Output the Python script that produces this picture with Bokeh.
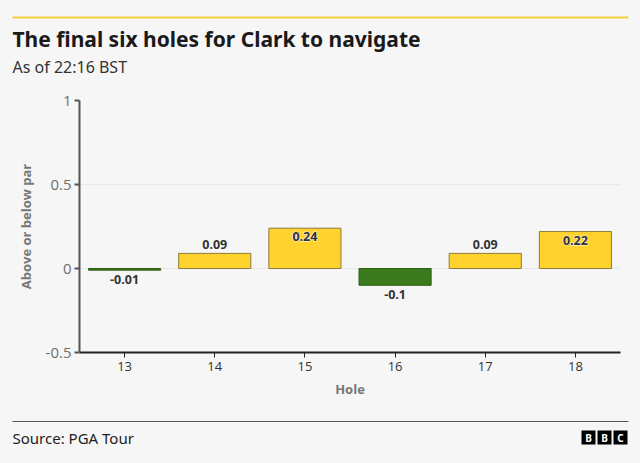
from bokeh.plotting import figure
from bokeh.layouts import column
from bokeh.models import ColumnDataSource, LabelSet, Range1d, FactorRange, FixedTicker
from bokeh.embed import file_html
from bokeh.resources import INLINE
from bokeh.core.properties import value

holes = ["13", "14", "15", "16", "17", "18"]
vals = [-0.01, 0.09, 0.24, -0.1, 0.09, 0.22]
labels = ["-0.01", "0.09", "0.24", "-0.1", "0.09", "0.22"]

BG = "#f6f6f6"
YEL = "#ffd22e"
GRN = "#3b7a1c"

W = 640
HEAD_H, MAIN_H = 85, 320
FOOT_H = 463 - HEAD_H - MAIN_H
FL, FR = 79, 620
FT, FB = 100, 352  # frame top/bottom in page px


def blank(h, y0):
    f = figure(width=W, height=h, x_range=Range1d(0, W), y_range=Range1d(y0 + h, y0),
               output_backend="svg", toolbar_location=None,
               x_axis_location=None, y_axis_location=None,
               min_border=0, min_border_left=0, min_border_right=0, min_border_top=0, min_border_bottom=0)
    f.grid.grid_line_color = None
    f.outline_line_color = None
    f.background_fill_color = BG
    f.border_fill_color = BG
    return f


# ---- header
head = blank(HEAD_H, 0)
head.rect(x=[320], y=[17], width=616, height=2, fill_color="#f5cf3a", line_color=None)
head.text(x=[12], y=[38], text=["The final six holes for Clark to navigate"],
          text_font=value("Noto Sans"), text_font_style="bold", text_font_size="21px",
          text_color="#1a1a1a", text_baseline="middle", text_align="left")
head.text(x=[12], y=[66], text=["As of 22:16 BST"],
          text_font=value("Noto Sans"), text_font_size="16px",
          text_color="#333333", text_baseline="middle", text_align="left")

# ---- main chart
colors = [YEL if v >= 0 else GRN for v in vals]
edges = ["#8b7b3a" if v >= 0 else "#2f5f17" for v in vals]
src = ColumnDataSource(dict(x=holes, top=vals, c=colors, e=edges))

p = figure(width=W, height=MAIN_H, x_range=FactorRange(*holes, range_padding=0),
           y_range=Range1d(-0.5, 1.0), output_backend="svg", toolbar_location=None,
           min_border_left=FL, min_border_right=W - FR, min_border_top=FT - HEAD_H,
           min_border_bottom=HEAD_H + MAIN_H - FB)
p.background_fill_color = BG
p.border_fill_color = BG
p.outline_line_color = None

p.vbar(x="x", top="top", bottom=0, width=0.8, source=src, fill_color="c",
       line_color="e", line_width=1)

p.yaxis.ticker = FixedTicker(ticks=[-0.5, 0, 0.5, 1])
p.yaxis.major_label_overrides = {-0.5: "-0.5", 0: "0", 0.5: "0.5", 1: "1"}
p.yaxis.axis_line_color = "#555555"
p.yaxis.axis_line_width = 2
p.yaxis.major_tick_line_color = "#555555"
p.yaxis.major_tick_line_width = 2
p.yaxis.major_tick_out = 5
p.yaxis.major_tick_in = 0
p.yaxis.minor_tick_line_color = None
p.yaxis.major_label_text_font = "Open Sans"
p.yaxis.major_label_text_font_size = "15px"
p.yaxis.major_label_text_color = "#6e6e6e"
p.yaxis.major_label_standoff = 3
p.yaxis.axis_label = "Above or below par"
p.yaxis.axis_label_text_font = "Open Sans"
p.yaxis.axis_label_text_font_style = "bold"
p.yaxis.axis_label_text_font_size = "13px"
p.yaxis.axis_label_text_color = "#777777"
p.yaxis.axis_label_standoff = 8

p.xaxis.axis_line_color = "#222222"
p.xaxis.axis_line_width = 2
p.xaxis.major_tick_line_color = "#222222"
p.xaxis.major_tick_line_width = 1
p.xaxis.major_tick_out = 5
p.xaxis.major_tick_in = 0
p.xaxis.major_label_text_font = "Open Sans"
p.xaxis.major_label_text_font_size = "13px"
p.xaxis.major_label_text_color = "#333333"
p.xaxis.major_label_standoff = 4
p.xaxis.axis_label = "Hole"
p.xaxis.axis_label_text_font = "Open Sans"
p.xaxis.axis_label_text_font_style = "bold"
p.xaxis.axis_label_text_font_size = "13px"
p.xaxis.axis_label_text_color = "#777777"
p.xaxis.axis_label_standoff = 6

p.xgrid.grid_line_color = None
p.ygrid.ticker = FixedTicker(ticks=[0, 0.5, 1])
p.ygrid.grid_line_color = "#e8e8e8"
p.ygrid.grid_line_width = 1


def sub(cond):
    idx = [i for i, v in enumerate(vals) if cond(v)]
    return ColumnDataSource(dict(x=[holes[i] for i in idx], y=[vals[i] for i in idx],
                                 t=[labels[i] for i in idx]))


pos = sub(lambda v: 0 <= v < 0.2)
neg = sub(lambda v: v < 0)
ins = sub(lambda v: v >= 0.2)
common = dict(text_font=value("Open Sans"), text_font_style="bold", text_font_size="12.5px",
              text_color="#333333", text_align="center")
p.add_layout(LabelSet(x="x", y="y", text="t", source=pos, y_offset=4, text_baseline="bottom", **common))
p.add_layout(LabelSet(x="x", y="y", text="t", source=neg, y_offset=-5, text_baseline="top", **common))
p.add_layout(LabelSet(x="x", y="y", text="t", source=ins, y_offset=-4, text_baseline="top",
                      text_outline_color="white", **common))
p.add_layout(LabelSet(x="x", y="y", text="t", source=ins, y_offset=-4, text_baseline="top", **common))

# ---- footer
y0 = HEAD_H + MAIN_H
foot = blank(FOOT_H, y0)
foot.rect(x=[320], y=[421], width=616, height=1, fill_color="#555555", line_color=None)
foot.text(x=[12], y=[437], text=["Source: PGA Tour"],
          text_font=value("Noto Sans"), text_font_size="15px",
          text_color="#222222", text_baseline="middle", text_align="left")
logo_x = [588, 604, 620]
foot.rect(x=logo_x, y=[437] * 3, width=14, height=14, fill_color="#000000", line_color=None)
foot.text(x=logo_x, y=[437.5] * 3, text=["B", "B", "C"],
          text_font=value("Noto Sans"), text_font_style="bold", text_font_size="10px",
          text_color="#ffffff", text_baseline="middle", text_align="center")

layout = column(column(head), column(p), column(foot), spacing=0, styles={"background-color": BG})
open("out.html", "w").write(file_html(layout, INLINE))
